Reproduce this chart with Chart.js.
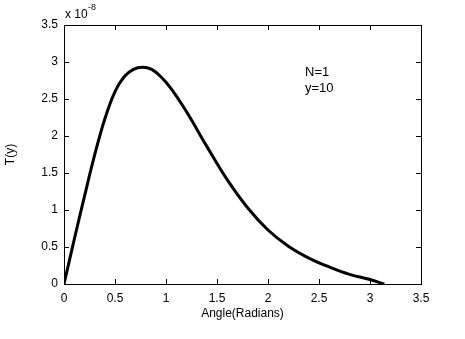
<!DOCTYPE html>
<html>
<head>
<meta charset="utf-8">
<script src="https://cdn.jsdelivr.net/npm/chart.js@4/dist/chart.umd.min.js"></script>
<style>
  html, body { margin: 0; padding: 0; background: #fff; }
  #wrap { width: 465px; height: 339px; }
</style>
</head>
<body>
<div id="wrap"><canvas id="tChart" width="465" height="339"></canvas></div>
<script>
// angle in radians
const angles = [0, 0.1, 0.2, 0.3, 0.4, 0.5, 0.59, 0.68, 0.77, 0.86, 0.95, 1.05, 1.2, 1.4, 1.6, 1.8, 2.0, 2.2, 2.4, 2.6, 2.8, 3.0, 3.14];
// T(y) in units of 1e-8
const tValues = [0, 0.6, 1.18, 1.74, 2.23, 2.6, 2.8, 2.9, 2.93, 2.9, 2.8, 2.64, 2.33, 1.86, 1.41, 1.03, 0.73, 0.51, 0.35, 0.23, 0.13, 0.06, 0];
const xTicks = [0, 0.5, 1, 1.5, 2, 2.5, 3, 3.5];
const yTicks = [0, 0.5, 1, 1.5, 2, 2.5, 3, 3.5];
const notes = ['N=1', 'y=10'];

const FONT = 'Arial, "Liberation Sans", sans-serif';

//draws the box, inward ticks and the extra texts (matlab look)
const matlabFrame = {
    id: 'matlabFrame',
    afterDraw(chart) {
        const { ctx, chartArea: a, scales: { x, y } } = chart;
        ctx.save();
        ctx.strokeStyle = '#000';
        ctx.lineWidth = 1;
        ctx.strokeRect(a.left + 0.5, a.top + 0.5, a.right - a.left, a.bottom - a.top);
        ctx.beginPath();
        const t = 5;
        xTicks.forEach(v => {
            const px = Math.round(x.getPixelForValue(v)) + 0.5;
            ctx.moveTo(px, a.bottom); ctx.lineTo(px, a.bottom - t);
            ctx.moveTo(px, a.top); ctx.lineTo(px, a.top + t);
        });
        yTicks.forEach(v => {
            const py = Math.round(y.getPixelForValue(v)) + 0.5;
            ctx.moveTo(a.left, py); ctx.lineTo(a.left + t, py);
            ctx.moveTo(a.right, py); ctx.lineTo(a.right - t, py);
        });
        ctx.stroke();

        ctx.fillStyle = '#000';
        ctx.textBaseline = 'alphabetic';
        ctx.textAlign = 'left';
        ctx.font = '12px ' + FONT;
        ctx.fillText('x 10', 65, 18);
        ctx.font = '9px ' + FONT;
        ctx.fillText('-8', 88, 10);

        ctx.font = '13px ' + FONT;
        notes.forEach((s, i) => ctx.fillText(s, 305, 76 + i * 16));
        ctx.restore();
    }
};

new Chart(document.getElementById('tChart'), {
    type: 'line',
    data: {
        datasets: [{
            data: angles.map((a, i) => ({ x: a, y: tValues[i] })),
            borderColor: '#000',
            borderWidth: 3,
            pointRadius: 0,
            tension: 0.4,
            fill: false
        }]
    },
    options: {
        responsive: false,
        animation: false,
        layout: { padding: { top: 25, right: 44, left: 3, bottom: 18 } },
        plugins: { legend: { display: false }, tooltip: { enabled: false } },
        scales: {
            x: {
                type: 'linear',
                min: 0, max: 3.5,
                afterBuildTicks: s => { s.ticks = xTicks.map(v => ({ value: v })); },
                afterFit: s => { s.height = 37; },
                grid: { display: false, drawTicks: false },
                border: { display: false },
                ticks: { color: '#000', padding: 7, font: { family: FONT, size: 12 }, maxRotation: 0, callback: v => String(v) },
                title: { display: true, text: 'Angle(Radians)', color: '#000', padding: 0, font: { family: FONT, size: 12 } }
            },
            y: {
                min: 0, max: 3.5,
                afterBuildTicks: s => { s.ticks = yTicks.map(v => ({ value: v })); },
                afterFit: s => { s.width = 61; },
                grid: { display: false, drawTicks: false },
                border: { display: false },
                ticks: { color: '#000', padding: 6, font: { family: FONT, size: 12 }, callback: v => String(v) },
                title: { display: true, text: 'T(y)', color: '#000', padding: 0, font: { family: FONT, size: 12 } }
            }
        }
    },
    plugins: [matlabFrame]
});
</script>
</body>
</html>
